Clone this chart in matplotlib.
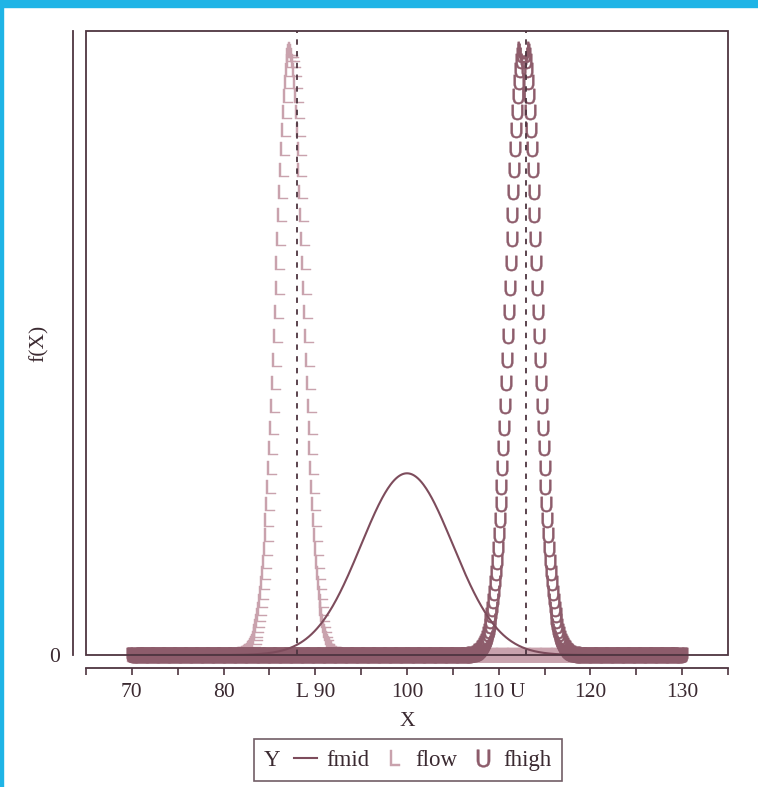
import numpy as np
import matplotlib.pyplot as plt
from matplotlib.patches import Rectangle

# values
x_start, x_stop, x_step = 70, 130, 0.1
mid_mean, mid_sd = 100, 5
low_mean, low_sd = 87.6, 1.5
high_mean, high_sd = 112.7, 1.5
l_cut, u_cut = 88, 113
tick_pos = [65, 70, 75, 80, 85, 90, 95, 100, 105, 110, 115, 120, 125, 130, 135]
tick_labels = ['', '70', '', '80', '', 'L 90', '', '100', '', '110 U', '', '120', '', '130', '']

# colours
c_text = '#3b2a31'
c_axis = '#4e3540'
c_mid = '#7d4c5c'
c_low = '#c9a2ad'
c_high = '#8d5c6b'
c_blue = '#1fb4e6'

plt.rcParams['font.family'] = ['Liberation Serif', 'DejaVu Serif']
plt.rcParams['mathtext.fontset'] = 'dejavusans'
fs = 15.5


def normden(x, m, s):
    return np.exp(-0.5 * ((x - m) / s) ** 2) / (s * np.sqrt(2 * np.pi))


x = np.arange(x_start, x_stop + x_step / 2, x_step)
fmid = normden(x, mid_mean, mid_sd)
flow = normden(x, low_mean, low_sd)
fhigh = normden(x, high_mean, high_sd)

fig = plt.figure(figsize=(7.58, 7.87), dpi=100)
ax = fig.add_axes([86 / 758, 1 - 655 / 787, 642 / 758, 624 / 787])

ax.plot(x, fmid, color=c_mid, lw=1.5, label='fmid', zorder=3)
ax.plot(x, flow, ls='none', marker=r'$\mathsf{L}$', ms=10.5, mew=0.3,
        color=c_low, label='flow', zorder=2, clip_on=False)
ax.plot(x, fhigh, ls='none', marker=r'$\mathsf{U}$', ms=11, mew=0.3,
        color=c_high, label='fhigh', zorder=2.5, clip_on=False)

for v in (l_cut, u_cut):
    ax.axvline(v, color=c_axis, lw=1.3, ls=(0, (3, 3.5)), zorder=4)

ax.set_xlim(65, 135)
ax.set_ylim(0, 0.274)

# plot region box
ax.add_patch(Rectangle((0, 0), 1, 1, transform=ax.transAxes, fill=False,
                       ec=c_axis, lw=1.3, zorder=5, clip_on=False))

for s in ('top', 'right'):
    ax.spines[s].set_visible(False)
for s in ('left', 'bottom'):
    ax.spines[s].set_position(('outward', 9.5))
    ax.spines[s].set_color(c_axis)
    ax.spines[s].set_linewidth(1.3)

ax.set_xticks(tick_pos)
ax.set_xticklabels(tick_labels)
ax.set_yticks([0])
ax.set_yticklabels(['0'])
ax.tick_params(axis='x', length=5, width=1.2, color=c_axis, labelsize=fs,
               labelcolor=c_text, pad=6)
ax.tick_params(axis='y', length=0, labelsize=fs, labelcolor=c_text, pad=9)

ax.set_xlabel('X', fontsize=fs, color=c_text, labelpad=7)
ax.set_ylabel('f(X)', fontsize=fs, color=c_text)
ax.yaxis.set_label_coords(-0.058, 0.5)

lfs = 16.5
leg = fig.legend(loc='lower center', bbox_to_anchor=(408 / 758, 6 / 787),
                 ncol=3, title='Y', fontsize=lfs, title_fontsize=lfs,
                 frameon=True, fancybox=False, handlelength=1.0,
                 handletextpad=0.4, columnspacing=1.5, borderpad=0.45,
                 borderaxespad=0, markerscale=1.15)
leg.get_frame().set_edgecolor(c_axis)
leg.get_frame().set_linewidth(1.2)
for t in leg.get_texts():
    t.set_color(c_text)
leg.get_title().set_color(c_text)
# put the legend title on the same row as the keys
box = leg.get_children()[0]
title_box = box.get_children()[0]
hpack = box.get_children()[1]
box._children = [hpack]
hpack._children = [title_box] + hpack.get_children()
hpack.sep = 10

# blue page border
fig.patches.append(Rectangle((0, 1 - 7 / 787), 1, 7 / 787, transform=fig.transFigure,
                             color=c_blue, zorder=10))
fig.patches.append(Rectangle((0, 0), 3 / 758, 1, transform=fig.transFigure,
                             color=c_blue, zorder=10))

fig.savefig('out.png', dpi=100)
